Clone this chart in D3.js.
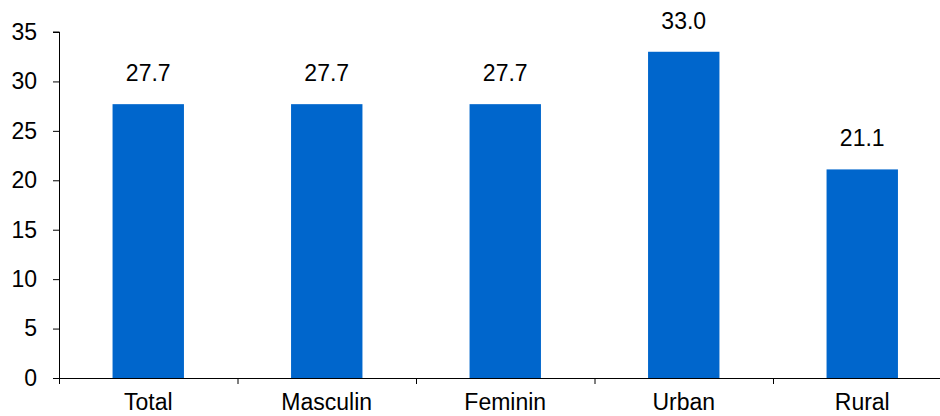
<!DOCTYPE html>
<html>
<head>
<meta charset="utf-8">
<script src="https://cdn.jsdelivr.net/npm/d3@7"></script>
<style>
  body { margin: 0; background: #fff; }
  text { font-family: "Liberation Sans", Arial, sans-serif; fill: #000; }
</style>
</head>
<body>
<div id="chart"></div>
<script>
var categories = ["Total", "Masculin", "Feminin", "Urban", "Rural"];
var values = [27.7, 27.7, 27.7, 33.0, 21.1];
var yTicks = [0, 5, 10, 15, 20, 25, 30, 35];

var width = 940, height = 416;
var margin = {top: 32, left: 59, bottom: 38};
var fontSize = "23px";

var svg = d3.select("#chart")
  .append("svg")
    .attr("width", width)
    .attr("height", height);

// x: bands 178.5 wide, last one runs off the right edge
var x = d3.scaleBand()
  .domain(categories)
  .range([margin.left, margin.left + 178.5 * categories.length])
  .paddingInner(0.6)
  .paddingOuter(0.3);

var y = d3.scaleLinear()
  .domain([0, 35])
  .range([height - margin.bottom, margin.top]);

// y axis
var yAxis = svg.append("g")
  .attr("transform", "translate(" + margin.left + ",0)")
  .call(d3.axisLeft(y).tickValues(yTicks).tickSize(6).tickPadding(16).tickFormat(d3.format("d")));
yAxis.selectAll("text").style("font-size", fontSize).style("font-family", "Liberation Sans, Arial, sans-serif");
yAxis.select(".domain").attr("d", "M-6," + y(35) + "H0.5V" + y(0));

// bars
svg.selectAll("rect.bar")
  .data(values)
  .enter().append("rect")
    .attr("class", "bar")
    .attr("x", function(d, i){ return x(categories[i]); })
    .attr("width", x.bandwidth())
    .attr("y", function(d){ return y(d); })
    .attr("height", function(d){ return y(0) - y(d); })
    .attr("fill", "#0066CC");

// value labels
svg.selectAll("text.val")
  .data(values)
  .enter().append("text")
    .attr("class", "val")
    .attr("x", function(d, i){ return x(categories[i]) + x.bandwidth() / 2; })
    .attr("y", function(d){ return y(d) - 23; })
    .attr("text-anchor", "middle")
    .style("font-size", fontSize)
    .text(function(d){ return d.toFixed(1); });

// x axis line + boundary ticks
var step = x.step();
svg.append("line")
  .attr("x1", margin.left).attr("x2", width)
  .attr("y1", y(0) + 0.5).attr("y2", y(0) + 0.5)
  .attr("stroke", "#000");
svg.selectAll("line.xt")
  .data(d3.range(categories.length))
  .enter().append("line")
    .attr("class", "xt")
    .attr("x1", function(i){ return margin.left + step * i + 0.5; })
    .attr("x2", function(i){ return margin.left + step * i + 0.5; })
    .attr("y1", y(0)).attr("y2", y(0) + 6)
    .attr("stroke", "#000");

// category labels (kept just inside the bottom edge)
svg.selectAll("text.cat")
  .data(categories)
  .enter().append("text")
    .attr("class", "cat")
    .attr("x", function(d){ return x(d) + x.bandwidth() / 2; })
    .attr("y", y(0) + 32)
    .attr("text-anchor", "middle")
    .style("font-size", fontSize)
    .text(function(d){ return d; });
</script>
</body>
</html>
